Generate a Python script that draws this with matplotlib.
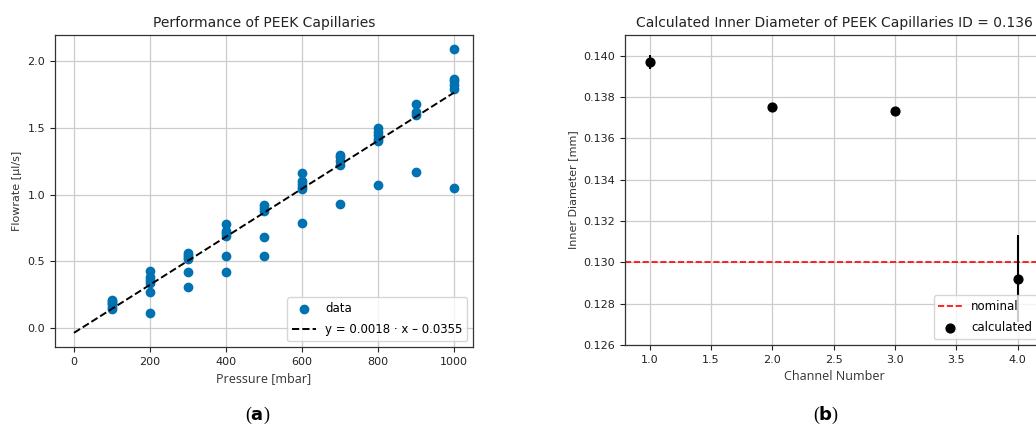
import matplotlib
matplotlib.use("Agg")
import matplotlib.pyplot as plt
import numpy as np

# ---- data (a) ----
pressure_levels = [100, 200, 300, 400, 500, 600, 700, 800, 900, 1000]
flow_100 = [0.21, 0.20, 0.19, 0.18, 0.16, 0.14]
flow_200 = [0.43, 0.38, 0.36, 0.34, 0.27, 0.11]
flow_300 = [0.56, 0.55, 0.53, 0.52, 0.42, 0.31]
flow_400 = [0.78, 0.73, 0.71, 0.69, 0.54, 0.42]
flow_500 = [0.92, 0.90, 0.88, 0.68, 0.54]
flow_600 = [1.16, 1.10, 1.08, 1.06, 1.04, 0.79]
flow_700 = [1.30, 1.28, 1.25, 1.22, 0.93]
flow_800 = [1.50, 1.47, 1.45, 1.42, 1.40, 1.07]
flow_900 = [1.68, 1.62, 1.60, 1.17]
flow_1000 = [2.09, 1.87, 1.85, 1.82, 1.79, 1.05]
fit_slope = 0.0018
fit_intercept = -0.0355
fit_range = [0, 1000]

# ---- data (b) ----
channels = [1, 2, 3, 4]
inner_diam = [0.1397, 0.1375, 0.1373, 0.1292]
inner_diam_err = [0.00035, 0.00005, 0.00005, 0.0021]
nominal_diam = 0.130

flows = [flow_100, flow_200, flow_300, flow_400, flow_500,
         flow_600, flow_700, flow_800, flow_900, flow_1000]
px = [p for p, f in zip(pressure_levels, flows) for _ in f]
py = [v for f in flows for v in f]

W, H = 1036, 437
fig = plt.figure(figsize=(W / 100, H / 100), dpi=100)
fig.patch.set_facecolor("white")

tick_fs = 8
ylabel_fs = 8
xlabel_fs = 9
title_fs = 10
legend_fs = 8.5

def style(ax):
    ax.grid(True, color="#cccccc", linewidth=0.9)
    ax.set_axisbelow(True)
    ax.tick_params(labelsize=tick_fs, colors="#222222", length=3.5, width=0.8)
    for s in ax.spines.values():
        s.set_color("#333333")
        s.set_linewidth(0.9)

# ---- left axes ----
ax1 = fig.add_axes([55 / W, 1 - 347 / H, 418 / W, (347 - 35) / H])
style(ax1)
ax1.scatter(px, py, s=36, color="#0072B2", label="data", zorder=3)
xf = np.array(fit_range)
ax1.plot(xf, fit_slope * xf + fit_intercept, "--", color="black", lw=1.4,
         label="y = 0.0018 · x – 0.0355", zorder=4)
ax1.set_title("Performance of PEEK Capillaries", fontsize=title_fs, color="#222222")
ax1.set_xlabel("Pressure [mbar]", fontsize=xlabel_fs, family="Open Sans", color="#333333")
ax1.set_ylabel("Flowrate [µl/s]", fontsize=ylabel_fs, color="#333333")
ax1.set_xticks([0, 200, 400, 600, 800, 1000])
ax1.set_yticks([0.0, 0.5, 1.0, 1.5, 2.0])
ax1.legend(loc="lower right", fontsize=legend_fs, labelspacing=0.7)

# ---- right axes ----
ax2 = fig.add_axes([625 / W, 1 - 345 / H, 418 / W, (345 - 35) / H])
style(ax2)
ax2.axhline(nominal_diam, color="red", ls="--", lw=1.2, label="nominal")
ax2.errorbar(channels, inner_diam, yerr=inner_diam_err, fmt="none", ecolor="black",
             elinewidth=1.5, zorder=3)
ax2.scatter(channels, inner_diam, s=40, color="black", label="calculated", zorder=4)
ax2.set_xlim(0.8, 4.207)
ax2.set_ylim(0.126, 0.141)
ax2.set_xticks([1.0, 1.5, 2.0, 2.5, 3.0, 3.5, 4.0])
ax2.set_yticks([0.126, 0.128, 0.130, 0.132, 0.134, 0.136, 0.138, 0.140])
ax2.set_title("Calculated Inner Diameter of PEEK Capillaries ID = 0.136",
              fontsize=title_fs, color="#222222")
ax2.set_xlabel("Channel Number", fontsize=xlabel_fs, family="Open Sans", color="#333333")
ax2.set_ylabel("Inner Diameter [mm]", fontsize=ylabel_fs, color="#333333")
ax2.legend(loc="lower right", fontsize=legend_fs, labelspacing=0.7)

fig.text(258 / W, 1 - 415 / H, r"($\mathbf{a}$)", ha="center", va="center",
         fontsize=13, family="Liberation Serif")
fig.text(826 / W, 1 - 415 / H, r"($\mathbf{b}$)", ha="center", va="center",
         fontsize=13, family="Liberation Serif")

fig.savefig("out.png", dpi=100, facecolor="white")
